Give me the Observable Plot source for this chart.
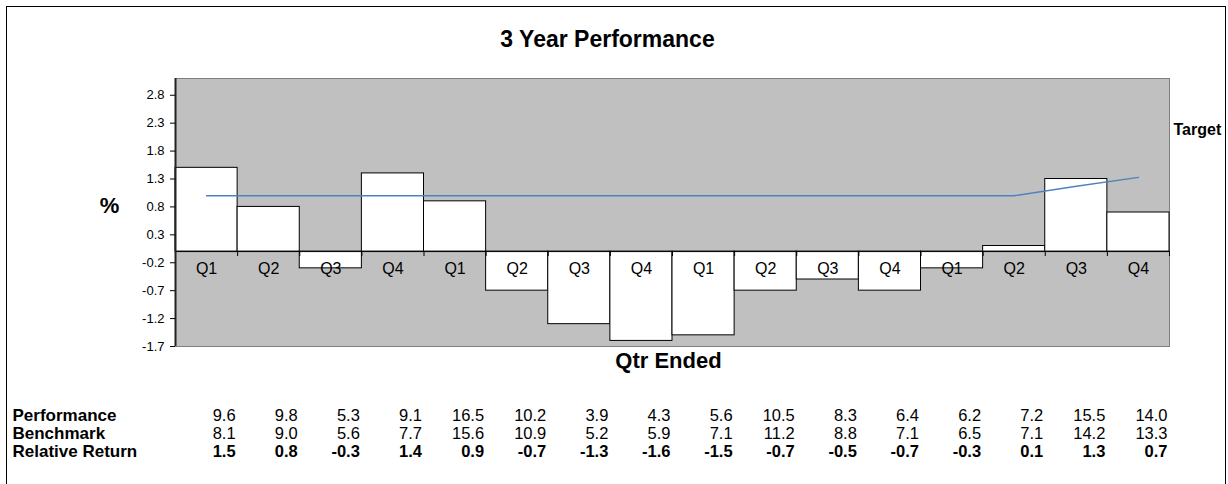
<!DOCTYPE html>
<html>
<head>
<meta charset="utf-8">
<script src="https://cdn.jsdelivr.net/npm/d3@7"></script>
<script src="https://cdn.jsdelivr.net/npm/@observablehq/plot@0.6"></script>
<style>
  html, body { margin: 0; padding: 0; background: white; }
  #wrap { position: relative; width: 1228px; height: 484px; overflow: hidden; }
  #border { position: absolute; left: 6px; top: 6px; width: 1218px; height: 500px; border: 1.5px solid #000; pointer-events: none; }
  #chart { position: absolute; left: 0; top: 0; }
</style>
</head>
<body>
<div id="wrap"><div id="chart"></div><div id="border"></div></div>
<script>
const quarters = ["Q1","Q2","Q3","Q4","Q1","Q2","Q3","Q4","Q1","Q2","Q3","Q4","Q1","Q2","Q3","Q4"];
const performance = [9.6, 9.8, 5.3, 9.1, 16.5, 10.2, 3.9, 4.3, 5.6, 10.5, 8.3, 6.4, 6.2, 7.2, 15.5, 14.0];
const benchmark = [8.1, 9.0, 5.6, 7.7, 15.6, 10.9, 5.2, 5.9, 7.1, 11.2, 8.8, 7.1, 6.5, 7.1, 14.2, 13.3];
const relativeReturn = [1.5, 0.8, -0.3, 1.4, 0.9, -0.7, -1.3, -1.6, -1.5, -0.7, -0.5, -0.7, -0.3, 0.1, 1.3, 0.7];
const target = [1.0, 1.0, 1.0, 1.0, 1.0, 1.0, 1.0, 1.0, 1.0, 1.0, 1.0, 1.0, 1.0, 1.0, 1.17, 1.33];
const yTicks = [-1.7, -1.2, -0.7, -0.2, 0.3, 0.8, 1.3, 1.8, 2.3, 2.8];
const rowLabels = ["Performance", "Benchmark", "Relative Return"];
const title = "3 Year Performance";

const data = quarters.map((q, i) => ({
  i, q, perf: performance[i], bench: benchmark[i], rel: relativeReturn[i], target: target[i]
}));
const bounds = d3.range(0, quarters.length + 1);
const fmt = v => v.toFixed(1);
const font = "'Liberation Sans', Arial, Helvetica, sans-serif";
const rowDy = [74, 92, 110];

const chart = Plot.plot({
  width: 1228,
  height: 484,
  marginLeft: 175,
  marginRight: 59,
  marginTop: 78,
  marginBottom: 138,
  style: { fontFamily: font, background: "transparent", color: "#000" },
  x: { domain: [0, quarters.length], axis: null },
  y: { domain: [-1.7, 3.1], axis: null },
  marks: [
    Plot.frame({ fill: "#c0c0c0", stroke: "#808080", strokeWidth: 1 }),
    Plot.rectY(data, { x1: "i", x2: d => d.i + 1, y1: 0, y2: "rel", fill: "white", stroke: "black", strokeWidth: 1 }),
    Plot.text(data, { x: d => d.i + 0.5, y: 0, text: "q", dy: 22.5, lineAnchor: "bottom", fontSize: 16, fill: "#000" }),
    Plot.ruleY([0], { stroke: "black", strokeWidth: 1 }),
    Plot.ruleX(bounds, { y1: 0, y2: 0, insetBottom: -5, stroke: "black" }),
    Plot.ruleX([0], { stroke: "#222", strokeWidth: 2 }),
    Plot.lineY(data, { x: d => d.i + 0.5, y: "target", stroke: "#4f81bd", strokeWidth: 1.3 }),
    Plot.axisY(yTicks, { tickSize: 5, tickPadding: 6, fontSize: 13, tickFormat: fmt, label: null, stroke: "black" }),
    // titles
    Plot.text([title], { frameAnchor: "top", dx: -65, dy: -32, lineAnchor: "bottom", fontSize: 23, fontWeight: "bold" }),
    Plot.text(["%"], { frameAnchor: "left", dx: -66, lineAnchor: "bottom", textAnchor: "middle", fontSize: 22, fontWeight: "bold" }),
    Plot.text(["Qtr Ended"], { frameAnchor: "bottom", dx: -4, dy: 21, lineAnchor: "bottom", fontSize: 22, fontWeight: "bold" }),
    Plot.text(["Target"], { frameAnchor: "top-right", dx: 4, dy: 56, textAnchor: "start", lineAnchor: "bottom", fontSize: 16, fontWeight: "bold" }),
    // table row labels
    ...rowLabels.map((lab, r) =>
      Plot.text([lab], { frameAnchor: "bottom-left", dx: -163, dy: rowDy[r], lineAnchor: "bottom", textAnchor: "start", fontSize: 17, fontWeight: "bold" })
    ),
    // table values
    Plot.text(data, { x: d => d.i + 1, frameAnchor: "bottom", text: d => fmt(d.perf), dx: -2, dy: rowDy[0], lineAnchor: "bottom", textAnchor: "end", fontSize: 16.5 }),
    Plot.text(data, { x: d => d.i + 1, frameAnchor: "bottom", text: d => fmt(d.bench), dx: -2, dy: rowDy[1], lineAnchor: "bottom", textAnchor: "end", fontSize: 16.5 }),
    Plot.text(data, { x: d => d.i + 1, frameAnchor: "bottom", text: d => fmt(d.rel), dx: -2, dy: rowDy[2], lineAnchor: "bottom", textAnchor: "end", fontSize: 16.5, fontWeight: "bold" })
  ]
});
document.getElementById("chart").appendChild(chart);
</script>
</body>
</html>
